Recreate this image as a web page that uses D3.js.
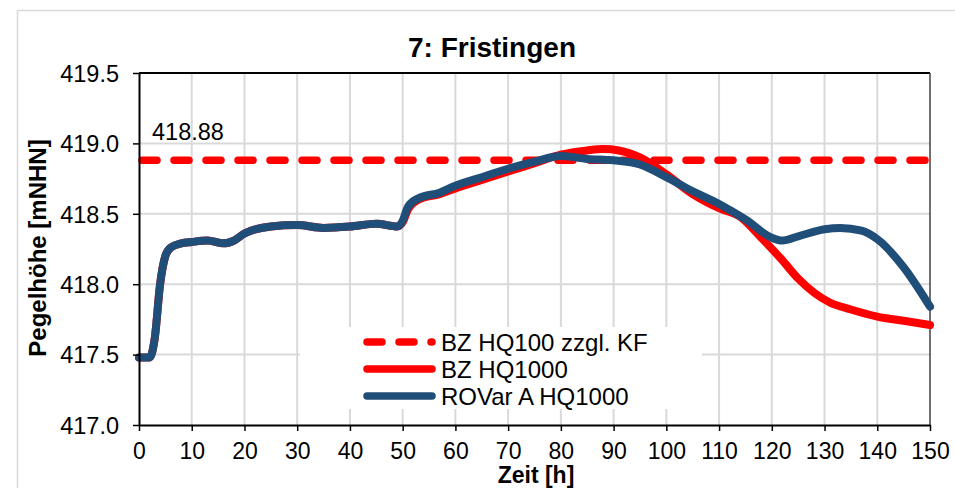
<!DOCTYPE html>
<html><head><meta charset="utf-8">
<script src="https://cdn.jsdelivr.net/npm/d3@7"></script>
<style>body{margin:0;background:#fff;}svg{display:block;font-family:"Liberation Sans",Arial,sans-serif;}</style>
</head><body>
<script>
const title = "7: Fristingen";
const xLabel = "Zeit [h]";
const yLabel = "Pegelhöhe [mNHN]";
const xTicks = [0,10,20,30,40,50,60,70,80,90,100,110,120,130,140,150];
const yTicks = [417.0,417.5,418.0,418.5,419.0,419.5];
const seriesNames = ["BZ HQ100 zzgl. KF","BZ HQ1000","ROVar A HQ1000"];
const thresholdValue = 418.88;
const thresholdLabel = "418.88";

const hq1000T = [0,2,3,4,5,6,8,10,13,16,18,20,25,30,35,40,45,49,50,51,53,57,60,65,70,75,80,85,88,91,95,100,105,110,114,118,122,125,128,131,135,140,145,150];
const hq1000V = [417.48,417.48,417.62,418.0,418.2,418.26,418.29,418.30,418.31,418.29,418.31,418.36,418.41,418.42,418.40,418.41,418.43,418.41,418.44,418.53,418.60,418.64,418.68,418.74,418.80,418.86,418.92,418.95,418.96,418.95,418.90,418.78,418.64,418.54,418.48,418.33,418.17,418.04,417.94,417.87,417.82,417.77,417.74,417.71];

const rovarT = [0,2,3,4,5,6,8,10,13,16,18,20,25,30,35,40,45,49,50,51,53,57,60,65,70,75,80,85,90,95,100,105,110,115,120,122,125,130,133,137,140,145,150];
const rovarV = [417.48,417.48,417.62,418.0,418.2,418.26,418.29,418.30,418.31,418.29,418.31,418.36,418.41,418.42,418.40,418.41,418.43,418.41,418.45,418.55,418.61,418.65,418.70,418.76,418.82,418.87,418.91,418.89,418.88,418.85,418.76,418.66,418.57,418.46,418.33,418.31,418.34,418.39,418.40,418.38,418.32,418.12,417.84];

const W = 955, H = 488;
const svg = d3.select("body").append("svg").attr("width",W).attr("height",H);

// outer frame
svg.append("path").attr("d","M17.5,488 V10.5 H955").attr("fill","none").attr("stroke","#d9d9d9").attr("stroke-width",1.5);

const x = d3.scaleLinear().domain([0,150]).range([139,930]);
const y = d3.scaleLinear().domain([417,419.5]).range([425,73]);

// grid
const grid = svg.append("g");
xTicks.slice(1,-1).forEach(t=>grid.append("line").attr("x1",x(t)).attr("x2",x(t)).attr("y1",y(419.5)).attr("y2",y(417)).attr("stroke","#d9d9d9").attr("stroke-width",2));
yTicks.slice(1,-1).forEach(t=>grid.append("line").attr("x1",x(0)).attr("x2",x(150)).attr("y1",y(t)).attr("y2",y(t)).attr("stroke","#d9d9d9").attr("stroke-width",2));

// plot borders
svg.append("line").attr("x1",x(0)).attr("x2",x(150)).attr("y1",y(419.5)).attr("y2",y(419.5)).attr("stroke","#000").attr("stroke-width",2);
svg.append("line").attr("x1",x(150)).attr("x2",x(150)).attr("y1",y(419.5)).attr("y2",y(417)).attr("stroke","#404040").attr("stroke-width",1.5);

// legend background
svg.append("rect").attr("x",300).attr("y",327).attr("width",402).attr("height",82).attr("fill","#fff");

const line = d3.line().x(d=>x(d[0])).y(d=>y(d[1])).curve(d3.curveMonotoneX);

// threshold
svg.append("line").attr("x1",x(0)+3).attr("x2",x(150)-4).attr("y1",y(thresholdValue)).attr("y2",y(thresholdValue))
  .attr("stroke","#ff0000").attr("stroke-width",7.5).attr("stroke-linecap","round").attr("stroke-dasharray","15,17");
svg.append("text").attr("x",152).attr("y",140).attr("font-size",23.5).attr("fill","#000").text(thresholdLabel);

svg.append("path").datum(hq1000T.map((t,i)=>[t,hq1000V[i]])).attr("d",line).attr("fill","none")
  .attr("stroke","#ff0000").attr("stroke-width",8).attr("stroke-linejoin","round").attr("stroke-linecap","round");
svg.append("path").datum(rovarT.map((t,i)=>[t,rovarV[i]])).attr("d",line).attr("fill","none")
  .attr("stroke","#1f4e79").attr("stroke-width",8).attr("stroke-linejoin","round").attr("stroke-linecap","round");

// axes
const xAxis = svg.append("g").attr("transform",`translate(0,${y(417)})`)
  .call(d3.axisBottom(x).tickValues(xTicks).tickSize(6).tickSizeOuter(0).tickFormat(d3.format("d")));
const yAxis = svg.append("g").attr("transform",`translate(${x(0)},0)`)
  .call(d3.axisLeft(y).tickValues(yTicks).tickSize(6).tickSizeOuter(0).tickFormat(d3.format(".1f")));
[xAxis,yAxis].forEach(a=>{
  a.select(".domain").attr("stroke","#000").attr("stroke-width",2);
  a.selectAll(".tick line").attr("stroke","#000").attr("stroke-width",1.5);
  a.selectAll(".tick text").attr("font-size",23.5).attr("fill","#000").attr("font-family","Liberation Sans, Arial, sans-serif");
});
xAxis.selectAll(".tick text").attr("font-size",23).attr("dy",null).attr("y",34);
yAxis.selectAll(".tick text").attr("x",-20).attr("dy","0.35em");

// titles
svg.append("text").attr("x",492).attr("y",57).attr("text-anchor","middle").attr("font-size",28).attr("font-weight","bold").text(title);
svg.append("text").attr("x",536).attr("y",483).attr("text-anchor","middle").attr("font-size",23).attr("font-weight","bold").text(xLabel);
svg.append("text").attr("transform","translate(46,248) rotate(-90)").attr("text-anchor","middle").attr("font-size",24).attr("font-weight","bold").text(yLabel);

// legend
const lg = svg.append("g");
const rows = [342,369,396];
const styles = [{c:"#ff0000",d:"15,17"},{c:"#ff0000",d:null},{c:"#1f4e79",d:null}];
rows.forEach((ry,i)=>{
  const l = lg.append("line").attr("x1",367).attr("x2",432).attr("y1",ry).attr("y2",ry)
    .attr("stroke",styles[i].c).attr("stroke-width",7.5).attr("stroke-linecap","round");
  if(styles[i].d) l.attr("stroke-dasharray",styles[i].d);
  lg.append("text").attr("x",441).attr("y",ry+8.5).attr("font-size",24).attr("fill","#000").text(seriesNames[i]);
});
</script>
</body></html>
